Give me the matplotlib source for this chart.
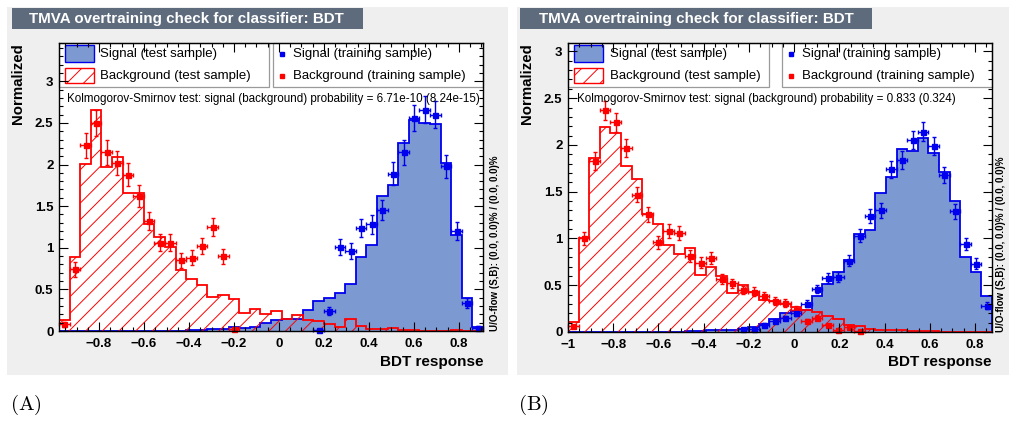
import numpy as np
import matplotlib
matplotlib.use('Agg')
import matplotlib.pyplot as plt
from matplotlib.patches import Rectangle
from matplotlib.ticker import MultipleLocator, FuncFormatter

# ---------------- data (40 bins per panel) ----------------
# Panel A
a_sig_test = [0, 0, 0, 0, 0, 0, 0, 0, 0, 0,
              0.005, 0.005, 0.01, 0.01, 0.03, 0.03, 0.05, 0.04, 0.05, 0.10,
              0.13, 0.14, 0.15, 0.25, 0.36, 0.40, 0.46, 0.57, 0.89, 1.03,
              1.62, 1.75, 2.26, 2.53, 2.50, 2.49, 2.02, 1.15, 0.40, 0.05]
a_bkg_test = [0.13, 0.89, 2.01, 2.66, 1.97, 2.09, 1.66, 1.66, 1.29, 1.13,
              1.01, 0.73, 0.62, 0.55, 0.41, 0.43, 0.39, 0.22, 0.27, 0.20,
              0.24, 0.14, 0.19, 0.13, 0.12, 0.08, 0.05, 0.14, 0.06, 0.02,
              0.02, 0.04, 0.01, 0.01, 0, 0, 0, 0.01, 0, 0]
a_bkg_train_first = 0
a_bkg_train = [0.08, 0.74, 2.23, 2.50, 2.15, 2.02, 1.88, 1.62, 1.32, 1.06,
               1.06, 0.85, 0.88, 1.02, 1.25, 0.90, 0.02]
a_bkg_train_err = [0.03, 0.09, 0.15, 0.16, 0.15, 0.14, 0.14, 0.13, 0.11, 0.10,
                   0.10, 0.09, 0.09, 0.10, 0.11, 0.09, 0.01]
a_sig_train_first = 24
a_sig_train = [0.01, 0.24, 1.01, 0.96, 1.24, 1.28, 1.45, 1.89, 2.15, 2.56,
               2.66, 2.60, 1.98, 1.20, 0.34, 0.04]
a_sig_train_err = [0.01, 0.05, 0.10, 0.10, 0.11, 0.11, 0.12, 0.14, 0.15, 0.16,
                   0.16, 0.16, 0.14, 0.11, 0.06, 0.02]
a_ks = "Kolmogorov-Smirnov test: signal (background) probability = 6.71e-10 (8.24e-15)"

# Panel B
b_sig_test = [0, 0, 0, 0, 0, 0, 0, 0, 0, 0,
              0, 0.01, 0.01, 0.02, 0.02, 0.025, 0.035, 0.05, 0.09, 0.14,
              0.20, 0.22, 0.24, 0.38, 0.51, 0.64, 0.77, 1.05, 1.09, 1.49,
              1.66, 1.96, 1.93, 2.07, 1.91, 1.71, 1.40, 0.80, 0.64, 0.39]
b_bkg_test = [0.11, 1.00, 1.86, 2.19, 2.13, 1.77, 1.64, 1.26, 1.15, 0.93,
              0.83, 0.90, 0.61, 0.69, 0.60, 0.42, 0.50, 0.43, 0.34, 0.33,
              0.30, 0.27, 0.24, 0.21, 0.17, 0.14, 0.08, 0.06, 0.03, 0.025,
              0.02, 0.02, 0.01, 0.01, 0.01, 0, 0, 0, 0, 0]
b_bkg_train_first = 0
b_bkg_train = [0.06, 1.00, 1.83, 2.37, 2.24, 1.97, 1.47, 1.26, 0.96, 1.08,
               1.06, 0.81, 0.74, 0.79, 0.57, 0.52, 0.45, 0.43, 0.38, 0.33,
               0.31, 0.24, 0.12, 0.15, 0.07, 0.025, 0.05, 0.01]
b_bkg_train_err = [0.02, 0.07, 0.095, 0.105, 0.10, 0.095, 0.085, 0.08, 0.07, 0.073,
                   0.072, 0.063, 0.06, 0.062, 0.053, 0.05, 0.047, 0.046, 0.043, 0.04,
                   0.039, 0.034, 0.024, 0.027, 0.019, 0.011, 0.016, 0.007]
b_sig_train_first = 16
b_sig_train = [0.03, 0.03, 0.075, 0.12, 0.15, 0.20, 0.30, 0.46, 0.58, 0.59,
               0.76, 1.03, 1.24, 1.30, 1.74, 1.84, 2.05, 2.14, 1.99, 1.68,
               1.29, 0.94, 0.73, 0.28]
b_sig_train_err = [0.012, 0.012, 0.019, 0.024, 0.026, 0.03, 0.037, 0.046, 0.052, 0.052,
                   0.059, 0.069, 0.076, 0.078, 0.09, 0.092, 0.097, 0.10, 0.096, 0.088,
                   0.077, 0.066, 0.058, 0.036]
b_ks = "Kolmogorov-Smirnov test: signal (background) probability = 0.833 (0.324)"

title_text = "TMVA overtraining check for classifier: BDT"
legend_labels = ["Signal (test sample)", "Background (test sample)",
                 "Signal (training sample)", "Background (training sample)"]
uo_text = "U/O-flow (S,B): (0.0, 0.0)% / (0.0, 0.0)%"

# ---------------- style ----------------
W, H = 1009, 421
plt.rcParams['font.family'] = ['Liberation Sans', 'DejaVu Sans']
plt.rcParams['font.weight'] = 'bold'
plt.rcParams['hatch.linewidth'] = 0.7
plt.rcParams['mathtext.fontset'] = 'cm'

SIG_FILL = '#7d99d1'
SIG_LINE = '#0000ee'
BKG = '#ff0000'
GREY = '#efefef'
TITLE_BG = '#5d6b7d'

fig = plt.figure(figsize=(W / 100, H / 100), dpi=100)


def fx(px):
    return px / W


def fy(py):
    return 1 - py / H


def fmt_tick(v, pos):
    v = round(v, 6)
    if abs(v) < 1e-9:
        v = 0.0
    s = '%g' % v
    return s.replace('-', '\u2212')


panels = [
    dict(grey=(7, 7, 508, 375), title=(12, 8, 363, 29), title_x=29,
         ax=(59, 43, 483, 331), xlim=(-0.978, 0.907), ylim=(0, 3.46),
         leg1=(59, 43, 269, 87), patch_x=65, text1_x=100,
         leg2=(273, 43, 483, 87), mark_x=282, text2_x=293,
         ks_x=67, ylab_x=18, uo_x=495, tag_x=10, tag='(A)',
         sig_test=a_sig_test, bkg_test=a_bkg_test,
         sig_train=(a_sig_train_first, a_sig_train, a_sig_train_err),
         bkg_train=(a_bkg_train_first, a_bkg_train, a_bkg_train_err), ks=a_ks),
    dict(grey=(517, 7, 1009, 375), title=(520, 8, 872, 29), title_x=539,
         ax=(568, 43, 992, 332), xlim=(-1.0, 0.875), ylim=(0, 3.09),
         leg1=(568, 43, 769, 87), patch_x=574, text1_x=610,
         leg2=(782, 43, 992, 87), mark_x=791, text2_x=802,
         ks_x=577, ylab_x=527, uo_x=1001, tag_x=518, tag='(B)',
         sig_test=b_sig_test, bkg_test=b_bkg_test,
         sig_train=(b_sig_train_first, b_sig_train, b_sig_train_err),
         bkg_train=(b_bkg_train_first, b_bkg_train, b_bkg_train_err), ks=b_ks),
]

for p in panels:
    gx0, gy0, gx1, gy1 = p['grey']
    fig.patches.append(Rectangle((fx(gx0), fy(gy1)), fx(gx1) - fx(gx0), fy(gy0) - fy(gy1),
                                 transform=fig.transFigure, facecolor=GREY,
                                 edgecolor='none', zorder=-2))
    tx0, ty0, tx1, ty1 = p['title']
    fig.patches.append(Rectangle((fx(tx0), fy(ty1)), fx(tx1) - fx(tx0), fy(ty0) - fy(ty1),
                                 transform=fig.transFigure, facecolor=TITLE_BG,
                                 edgecolor='none', zorder=-1))
    fig.text(fx(p['title_x']), fy((ty0 + ty1) / 2 + 0.5), title_text, color='white',
             fontsize=10.9, fontweight='bold', ha='left', va='center', zorder=2)

    x0, y0, x1, y1 = p['ax']
    ax = fig.add_axes([fx(x0), fy(y1), fx(x1) - fx(x0), fy(y0) - fy(y1)])
    ax.set_zorder(1)
    ax.set_facecolor('white')
    ax.set_axisbelow(False)
    xmin, xmax = p['xlim']
    edges = np.linspace(xmin, xmax, 41)
    centers = 0.5 * (edges[:-1] + edges[1:])
    half = 0.5 * (edges[1] - edges[0])

    ax.stairs(p['sig_test'], edges, fill=True, facecolor=SIG_FILL, edgecolor='none',
              lw=0, zorder=1)
    ax.stairs(p['sig_test'], edges, fill=False, color=SIG_LINE, lw=1.3, zorder=1.2)
    ax.stairs(p['bkg_test'], edges, fill=True, facecolor='none', edgecolor=BKG,
              hatch='//', lw=0, zorder=1.4)
    ax.stairs(p['bkg_test'], edges, fill=False, color=BKG, lw=1.3, zorder=1.5)

    for (first, vals, errs), col in ((p['bkg_train'], BKG), (p['sig_train'], SIG_LINE)):
        xs = centers[first:first + len(vals)]
        ax.errorbar(xs, vals, xerr=half, yerr=errs, fmt='s', ms=3.6, color=col,
                    mec=col, mfc=col, elinewidth=1.0, capsize=1.6, capthick=1.0,
                    zorder=2.1, clip_on=False)

    ax.set_xlim(xmin, xmax)
    ax.set_ylim(*p['ylim'])
    ax.xaxis.set_major_locator(MultipleLocator(0.2))
    ax.xaxis.set_minor_locator(MultipleLocator(0.05))
    ax.yaxis.set_major_locator(MultipleLocator(0.5))
    ax.yaxis.set_minor_locator(MultipleLocator(0.1))
    ax.xaxis.set_major_formatter(FuncFormatter(fmt_tick))
    ax.yaxis.set_major_formatter(FuncFormatter(fmt_tick))
    ax.tick_params(which='both', direction='in', top=True, right=True, width=0.8,
                   color='black')
    ax.tick_params(which='major', length=6.5)
    ax.tick_params(which='minor', length=3.2)
    ax.tick_params(axis='x', labelsize=9.5, pad=5)
    ax.tick_params(axis='y', labelsize=9.5, pad=4)
    for lbl in ax.get_xticklabels() + ax.get_yticklabels():
        lbl.set_fontweight('bold')
    for s in ax.spines.values():
        s.set_linewidth(1.0)
        s.set_zorder(2.6)

    tf = fig.transFigure
    # legend 1
    lx0, ly0, lx1, ly1 = p['leg1']
    ax.add_patch(Rectangle((fx(lx0), fy(ly1)), fx(lx1) - fx(lx0), fy(ly0) - fy(ly1),
                           transform=tf, facecolor='white', edgecolor='#9a9a9a',
                           lw=0.9, zorder=2.3, clip_on=False))
    px = p['patch_x']
    ax.add_patch(Rectangle((fx(px), fy(62)), fx(29), fy(45) - fy(62), transform=tf,
                           facecolor=SIG_FILL, edgecolor=SIG_LINE, lw=1.0,
                           zorder=2.35, clip_on=False))
    ax.add_patch(Rectangle((fx(px), fy(83)), fx(29), fy(68) - fy(83), transform=tf,
                           facecolor='white', edgecolor=BKG, hatch='//', lw=1.0,
                           zorder=2.35, clip_on=False))
    ax.text(fx(p['text1_x']), fy(54), legend_labels[0], transform=tf, fontsize=9.5,
            fontweight='normal', ha='left', va='center', zorder=2.4)
    ax.text(fx(p['text1_x']), fy(76), legend_labels[1], transform=tf, fontsize=9.5,
            fontweight='normal', ha='left', va='center', zorder=2.4)
    # legend 2
    lx0, ly0, lx1, ly1 = p['leg2']
    ax.add_patch(Rectangle((fx(lx0), fy(ly1)), fx(lx1) - fx(lx0), fy(ly0) - fy(ly1),
                           transform=tf, facecolor='white', edgecolor='#9a9a9a',
                           lw=0.9, zorder=2.3, clip_on=False))
    ax.plot([fx(p['mark_x'])], [fy(54)], 's', ms=2.6, color=SIG_LINE, transform=tf,
            zorder=2.4, clip_on=False)
    ax.plot([fx(p['mark_x'])], [fy(76)], 's', ms=2.6, color=BKG, transform=tf,
            zorder=2.4, clip_on=False)
    ax.text(fx(p['text2_x']), fy(54), legend_labels[2], transform=tf, fontsize=9.5,
            fontweight='normal', ha='left', va='center', zorder=2.4)
    ax.text(fx(p['text2_x']), fy(76), legend_labels[3], transform=tf, fontsize=9.5,
            fontweight='normal', ha='left', va='center', zorder=2.4)
    # KS text
    ax.text(fx(p['ks_x']), fy(99), p['ks'], transform=tf, fontsize=8.4,
            fontweight='normal', ha='left', va='center', zorder=3)

    # axis titles
    fig.text(fx(p['ylab_x']), fy(y0), 'Normalized', rotation=90, fontsize=10.8,
             fontweight='bold', ha='center', va='top')
    fig.text(fx(x1), fy(362), 'BDT response', fontsize=11, fontweight='bold',
             ha='right', va='center')
    fig.text(fx(p['uo_x']), fy(y1), uo_text, rotation=90, fontsize=7,
             fontweight='bold', ha='center', va='bottom')
    fig.text(fx(p['tag_x']), fy(405), r'$\mathrm{' + p['tag'] + '}$', fontsize=15,
             ha='left', va='center')

fig.savefig('out.png', dpi=100)
